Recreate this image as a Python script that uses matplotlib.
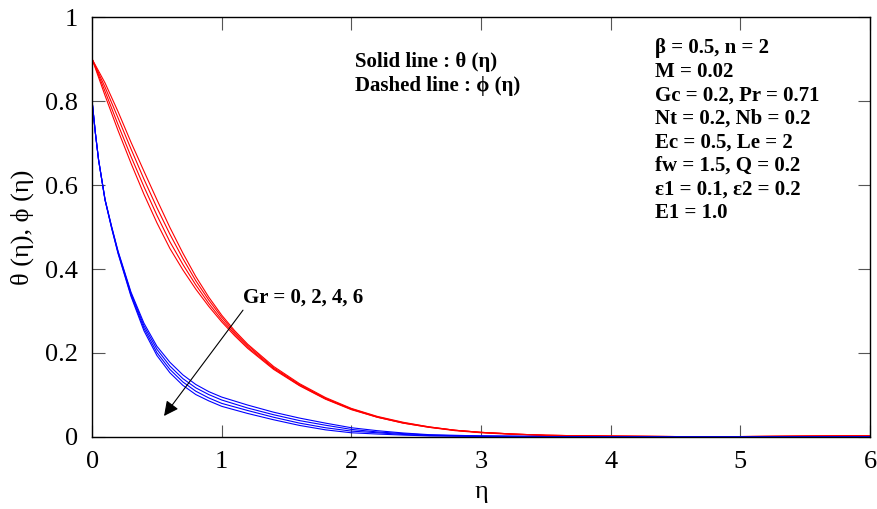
import numpy as np
import matplotlib.pyplot as plt

plt.rcParams['font.family'] = ['Liberation Serif', 'DejaVu Serif']

# eta grid for temperature profiles
eta_t = [0.0, 0.1, 0.2, 0.3, 0.4, 0.5, 0.6, 0.7, 0.8, 0.9, 1.0, 1.1, 1.2,
         1.4, 1.6, 1.8, 2.0, 2.2, 2.4, 2.6, 2.8, 3.0,
         3.25, 3.5, 4.0, 4.5, 5.0, 5.5, 6.0]

# theta(eta) for Gr = 0, 2, 4, 6
theta_gr0 = [0.900, 0.843, 0.775, 0.702, 0.633, 0.565, 0.499, 0.438, 0.382, 0.333, 0.290, 0.253, 0.221,
             0.168, 0.127, 0.094, 0.068, 0.049, 0.035, 0.024, 0.016, 0.011,
             0.007, 0.004, 0.002, 0.001, 0.001, 0.002, 0.003]
theta_gr2 = [0.900, 0.833, 0.760, 0.686, 0.614, 0.546, 0.483, 0.425, 0.372, 0.326, 0.285, 0.249, 0.218,
             0.165, 0.125, 0.092, 0.067, 0.048, 0.034, 0.024, 0.016, 0.011,
             0.007, 0.004, 0.002, 0.001, 0.001, 0.002, 0.003]
theta_gr4 = [0.900, 0.823, 0.744, 0.668, 0.596, 0.528, 0.465, 0.411, 0.362, 0.318, 0.279, 0.245, 0.214,
             0.163, 0.123, 0.091, 0.066, 0.047, 0.033, 0.023, 0.016, 0.011,
             0.007, 0.004, 0.002, 0.001, 0.001, 0.002, 0.003]
theta_gr6 = [0.900, 0.813, 0.730, 0.652, 0.578, 0.510, 0.449, 0.398, 0.352, 0.311, 0.274, 0.241, 0.211,
             0.161, 0.122, 0.090, 0.065, 0.047, 0.033, 0.023, 0.015, 0.010,
             0.006, 0.004, 0.002, 0.001, 0.001, 0.002, 0.003]

# eta grid for concentration profiles
eta_c = [0.0, 0.025, 0.05, 0.1, 0.15, 0.2, 0.3, 0.4, 0.5, 0.6, 0.7, 0.8, 0.9, 1.0,
         1.2, 1.4, 1.6, 1.8, 2.0, 2.2, 2.4, 2.6, 2.8, 3.0,
         3.5, 4.0, 4.5, 5.0, 5.5, 6.0]

# phi(eta) for Gr = 0, 2, 4, 6
phi_gr0 = [0.800, 0.725, 0.660, 0.566, 0.502, 0.443, 0.345, 0.271, 0.216, 0.178, 0.148, 0.125, 0.108, 0.095,
           0.076, 0.059, 0.045, 0.033, 0.022, 0.015, 0.0095, 0.0055, 0.004, 0.0025,
           0.001, 0.0, 0.0, 0.0, 0.0, 0.0]
phi_gr2 = [0.800, 0.725, 0.660, 0.565, 0.501, 0.441, 0.342, 0.265, 0.209, 0.169, 0.139, 0.117, 0.101, 0.088,
           0.069, 0.053, 0.039, 0.028, 0.018, 0.012, 0.008, 0.0045, 0.003, 0.002,
           0.001, 0.0, 0.0, 0.0, 0.0, 0.0]
phi_gr4 = [0.800, 0.725, 0.660, 0.564, 0.499, 0.439, 0.338, 0.259, 0.201, 0.161, 0.131, 0.109, 0.093, 0.080,
           0.063, 0.047, 0.033, 0.022, 0.014, 0.010, 0.006, 0.0035, 0.0027, 0.0018,
           0.001, 0.0, 0.0, 0.0, 0.0, 0.0]
phi_gr6 = [0.800, 0.725, 0.660, 0.564, 0.498, 0.437, 0.335, 0.253, 0.194, 0.153, 0.123, 0.101, 0.086, 0.073,
           0.056, 0.041, 0.0275, 0.017, 0.010, 0.007, 0.0045, 0.0025, 0.002, 0.0015,
           0.001, 0.0, 0.0, 0.0, 0.0, 0.0]

params = ['\u03b2 = 0.5, n = 2', 'M = 0.02', 'Gc = 0.2, Pr = 0.71', 'Nt = 0.2, Nb = 0.2',
          'Ec = 0.5, Le = 2', 'fw = 1.5, Q = 0.2', '\u03b51 = 0.1, \u03b52 = 0.2', 'E1 = 1.0']

fig = plt.figure(figsize=(8.77, 5.09), dpi=100)
ax = fig.add_axes([0.105, 0.1415, 0.887, 0.825])

for th in [theta_gr0, theta_gr2, theta_gr4, theta_gr6]:
    ax.plot(eta_t, th, color='red', lw=0.8)
for ph in [phi_gr0, phi_gr2, phi_gr4, phi_gr6]:
    ax.plot(eta_c, ph, color='blue', lw=0.8)

ax.set_xlim(0, 6)
ax.set_ylim(0, 1)
ax.set_xticks(range(7))
ax.set_yticks([0, 0.2, 0.4, 0.6, 0.8, 1])
ax.set_yticklabels(['0', '0.2', '0.4', '0.6', '0.8', '1'])
ax.tick_params(direction='in', length=9, width=0.8, color='#555555',
               top=True, right=True, labelsize=19, pad=10)
for sp in ax.spines.values():
    sp.set_linewidth(1.0)

ax.set_xlabel('\u03b7', fontsize=19, labelpad=6)
ax.set_ylabel('\u03b8 (\u03b7), \u03d5 (\u03b7)', fontsize=19, labelpad=8)

# notes on line styles
ax.text(2.03, 0.893, 'Solid line : \u03b8 (\u03b7)', fontsize=15, fontweight='bold', va='center')
ax.text(2.03, 0.836, 'Dashed line : \u03d5 (\u03b7)', fontsize=15, fontweight='bold', va='center')

# parameter block
for i, s in enumerate(params):
    ax.text(4.34, 0.926 - i * 0.056, s, fontsize=15, fontweight='bold', va='center')

ax.annotate('', xy=(0.555, 0.05), xytext=(1.164, 0.302),
            arrowprops=dict(arrowstyle='-|>', color='black', lw=0.8,
                            mutation_scale=22, shrinkA=0, shrinkB=0))
ax.text(1.164, 0.333, 'Gr = 0, 2, 4, 6', fontsize=15, fontweight='bold', va='center')

fig.savefig('out.png', dpi=100)
